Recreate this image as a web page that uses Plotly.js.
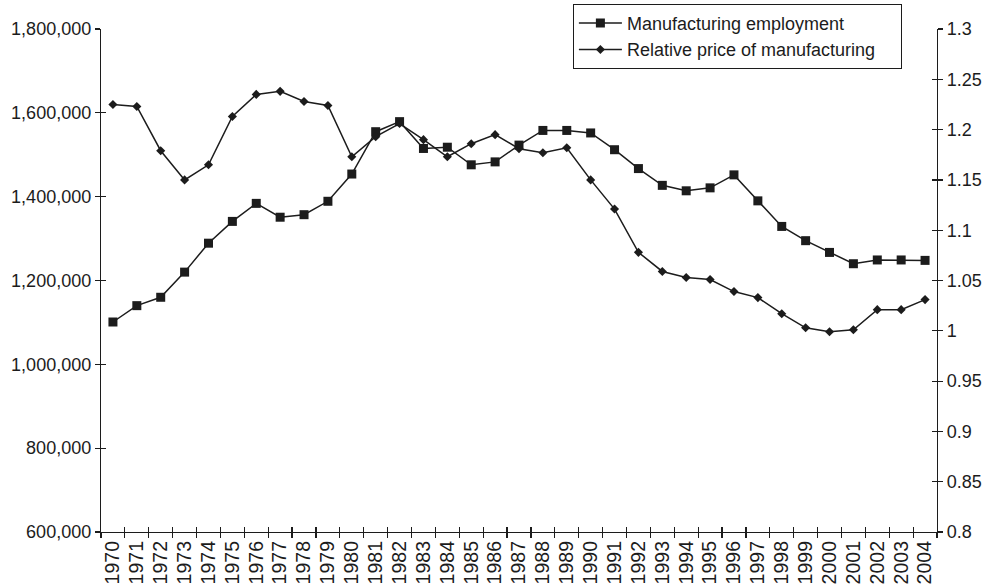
<!DOCTYPE html>
<html>
<head>
<meta charset="utf-8">
<script src="https://cdn.plot.ly/plotly-3.0.1.min.js"></script>
<style>
  html, body { margin: 0; padding: 0; background: #fff; }
  #chart { width: 995px; height: 588px; }
</style>
</head>
<body>
<div id="chart"></div>
<script>
// Manufacturing employment (left axis) vs relative price of manufacturing (right axis)

const years = ['1970','1971','1972','1973','1974','1975','1976','1977','1978','1979',
               '1980','1981','1982','1983','1984','1985','1986','1987','1988','1989',
               '1990','1991','1992','1993','1994','1995','1996','1997','1998','1999',
               '2000','2001','2002','2003','2004'];

const employment = [1101000, 1140000, 1160000, 1220000, 1289000, 1341000, 1384000, 1351000, 1357000, 1389000,
                    1454000, 1555000, 1579000, 1515000, 1518000, 1476000, 1483000, 1523000, 1558000, 1558000,
                    1552000, 1512000, 1467000, 1427000, 1414000, 1421000, 1452000, 1390000, 1329000, 1295000,
                    1267000, 1240000, 1249000, 1249000, 1248000];

const relPrice = [1.225, 1.223, 1.179, 1.150, 1.165, 1.213, 1.235, 1.238, 1.228, 1.224,
                  1.173, 1.193, 1.206, 1.190, 1.173, 1.186, 1.195, 1.181, 1.177, 1.182,
                  1.150, 1.121, 1.078, 1.059, 1.053, 1.051, 1.039, 1.033, 1.017, 1.003,
                  0.999, 1.001, 1.021, 1.021, 1.031];

const empRange   = [600000, 1800000];
const priceRange = [0.8, 1.3];

const ink  = '#1c1c1c';
const font = { family: 'Liberation Sans, Arial, sans-serif', size: 18, color: ink };

// category boundaries, for the inner half of the crossing x ticks
const bounds = years.map((_, i) => i - 0.5).concat(years.length - 0.5);

// a little trailing room so the legend box is as wide as the printed one
const pad = '\u00a0\u00a0\u00a0\u00a0';

const traces = [
    {
        x: years, y: employment, name: 'Manufacturing employment',
        type: 'scatter', mode: 'lines+markers', yaxis: 'y',
        line: { color: ink, width: 1.5 },
        marker: { symbol: 'square', size: 9, color: ink }
    },
    {
        x: years, y: relPrice, name: 'Relative price of manufacturing' + pad,
        type: 'scatter', mode: 'lines+markers', yaxis: 'y2',
        line: { color: ink, width: 1.5 },
        marker: { symbol: 'diamond', size: 7, color: ink }
    },
    // empty traces so the overlay axes (inner tick halves) get drawn
    { x: [], y: [], xaxis: 'x2', yaxis: 'y3', showlegend: false, hoverinfo: 'skip' },
    { x: [], y: [], xaxis: 'x2', yaxis: 'y4', showlegend: false, hoverinfo: 'skip' }
];

const baseAxis = { showgrid: false, zeroline: false, linecolor: ink, linewidth: 1.2,
                   tickcolor: ink, tickwidth: 1.2, ticklen: 5 };

const layout = {
    width: 995, height: 588,
    margin: { l: 101, r: 58, t: 29, b: 56, autoexpand: false },
    paper_bgcolor: '#ffffff', plot_bgcolor: '#ffffff',
    font: font,
    showlegend: true,
    legend: {
        x: 0.958, y: 1.050, xanchor: 'right', yanchor: 'top',
        bordercolor: ink, borderwidth: 1, bgcolor: '#ffffff',
        font: font, tracegroupgap: 0, itemwidth: 43
    },
    xaxis: Object.assign({}, baseAxis, {
        type: 'category', showline: true, ticks: 'outside', tickson: 'boundaries',
        tickmode: 'linear', tick0: 0, dtick: 1,
        tickangle: -90, anchor: 'y', range: [-0.5, years.length - 0.5],
        tickfont: { family: font.family, size: 19.5, color: ink }
    }),
    xaxis2: Object.assign({}, baseAxis, {
        overlaying: 'x', anchor: 'y', side: 'bottom', showline: false,
        range: [-0.5, years.length - 0.5], tickmode: 'array', tickvals: bounds,
        ticks: 'inside', showticklabels: false
    }),
    yaxis: Object.assign({}, baseAxis, {
        range: empRange, dtick: 200000, tickformat: ',d', showline: true,
        ticks: 'outside', anchor: 'x'
    }),
    yaxis2: Object.assign({}, baseAxis, {
        range: priceRange, dtick: 0.05, overlaying: 'y', side: 'right', showline: true,
        ticks: 'outside', anchor: 'x'
    }),
    yaxis3: Object.assign({}, baseAxis, {
        range: empRange, dtick: 200000, overlaying: 'y', side: 'left', anchor: 'x2',
        ticks: 'inside', showticklabels: false, showline: false
    }),
    yaxis4: Object.assign({}, baseAxis, {
        range: priceRange, dtick: 0.05, overlaying: 'y', side: 'right', anchor: 'x2',
        ticks: 'inside', showticklabels: false, showline: false
    })
};

Plotly.newPlot('chart', traces, layout, { displayModeBar: false, staticPlot: true });
</script>
</body>
</html>
